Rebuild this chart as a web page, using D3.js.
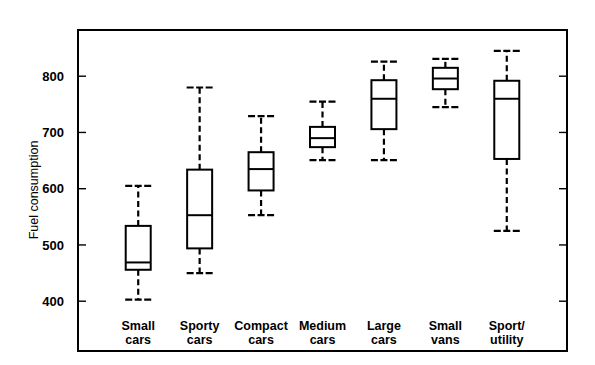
<!DOCTYPE html>
<html><head><meta charset="utf-8">
<script src="https://cdn.jsdelivr.net/npm/d3@7"></script>
<style>body{margin:0;background:#fff}svg{display:block}text{font-family:"Liberation Sans",Arial,sans-serif;fill:#000}</style>
</head><body><svg id="c" width="595" height="365"></svg>
<script>
const categories = [["Small","cars"],["Sporty","cars"],["Compact","cars"],["Medium","cars"],["Large","cars"],["Small","vans"],["Sport/","utility"]];
const lowWhisker = [402, 449, 552, 650, 650, 744, 524];
const q1 = [455, 493, 596, 673, 705, 776, 652];
const median = [468, 552, 634, 689, 759, 795, 759];
const q3 = [533, 633, 664, 709, 792, 814, 791];
const highWhisker = [604, 779, 728, 754, 825, 830, 844];
const yTicks = [400, 500, 600, 700, 800];

const svg = d3.select("#c");
const L = 78, R = 567, T = 30, B = 351;
const y = d3.scaleLinear().domain([400, 800]).range([300.7, 75.7]);
const x = d3.scaleBand().domain(d3.range(categories.length)).range([107.5, 537.5]).paddingInner(0.59).paddingOuter(0.295);
const bw = 25;

// frame
svg.append("rect").attr("x", L).attr("y", T).attr("width", R - L).attr("height", B - T)
  .attr("fill", "none").attr("stroke", "#000").attr("stroke-width", 2);

// left axis
const gl = svg.append("g").attr("transform", `translate(${L},0)`)
  .call(d3.axisLeft(y).tickValues(yTicks).tickSize(-8).tickPadding(14).tickFormat(d3.format("d")));
gl.select(".domain").remove();
gl.selectAll("line").attr("stroke", "#000").attr("stroke-width", 1.4);
gl.selectAll("text").attr("font-size", 13).attr("font-weight", "bold").attr("dy", "0.35em");

// right axis ticks
const gr = svg.append("g").attr("transform", `translate(${R},0)`)
  .call(d3.axisRight(y).tickValues(yTicks).tickSize(-8).tickFormat(""));
gr.select(".domain").remove();
gr.selectAll("line").attr("stroke", "#000").attr("stroke-width", 1.4);

// y title
svg.append("text").attr("transform", "translate(38,190) rotate(-90)")
  .attr("text-anchor", "middle").attr("font-size", 12.5).text("Fuel consumption");

const g = svg.append("g");
categories.forEach((c, i) => {
  const cx = x(i) + x.bandwidth() / 2;
  // whiskers
  g.append("line").attr("x1", cx).attr("x2", cx).attr("y1", y(q3[i])).attr("y2", y(highWhisker[i]))
    .attr("stroke", "#000").attr("stroke-width", 2.2).attr("stroke-dasharray", "6,3.5");
  g.append("line").attr("x1", cx).attr("x2", cx).attr("y1", y(q1[i])).attr("y2", y(lowWhisker[i]))
    .attr("stroke", "#000").attr("stroke-width", 2.2).attr("stroke-dasharray", "6,3.5");
  [highWhisker[i], lowWhisker[i]].forEach(v => {
    g.append("line").attr("x1", cx - 13).attr("x2", cx + 13).attr("y1", y(v)).attr("y2", y(v))
      .attr("stroke", "#000").attr("stroke-width", 2.2).attr("stroke-dasharray", "7,2.5");
  });
  // box
  g.append("rect").attr("x", cx - bw / 2).attr("y", y(q3[i])).attr("width", bw).attr("height", y(q1[i]) - y(q3[i]))
    .attr("fill", "#fff").attr("stroke", "#000").attr("stroke-width", 2);
  g.append("line").attr("x1", cx - bw / 2).attr("x2", cx + bw / 2).attr("y1", y(median[i])).attr("y2", y(median[i]))
    .attr("stroke", "#000").attr("stroke-width", 2);
  // labels
  const t = g.append("text").attr("text-anchor", "middle").attr("font-size", 12.5).attr("font-weight", "bold");
  t.append("tspan").attr("x", cx).attr("y", 330).text(c[0]);
  t.append("tspan").attr("x", cx).attr("y", 344).text(c[1]);
});
</script></body></html>
